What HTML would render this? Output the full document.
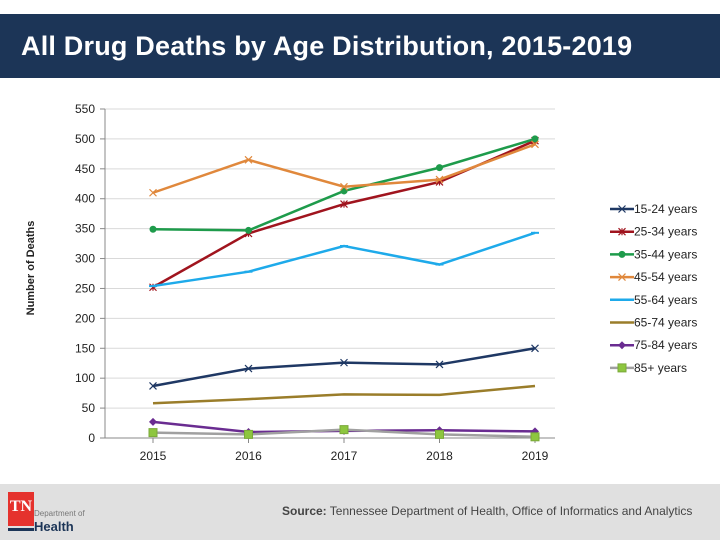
<!DOCTYPE html>
<html><head><meta charset="utf-8"><style>
body{margin:0;width:720px;height:540px;position:relative;background:#fff;font-family:"Liberation Sans",sans-serif;overflow:hidden}
.hdr{position:absolute;left:0;top:14px;width:720px;height:64px;background:#1c3557;color:#fff;font-weight:bold;font-size:27px;line-height:64px;padding-left:21px;box-sizing:border-box;letter-spacing:0.2px}
.ftr{position:absolute;left:0;top:484px;width:720px;height:56px;background:#e0e0e0}
</style></head><body>
<div class="hdr">All Drug Deaths by Age Distribution, 2015-2019</div>
<div class="ftr">
<div style="position:absolute;left:8px;top:8px;width:26px;height:34px;background:#e5322d;color:#fff;font-family:'Liberation Serif',serif;font-weight:bold;font-size:16px;text-align:center;line-height:30px">TN</div>
<div style="position:absolute;left:8px;top:44px;width:26px;height:3px;background:#1c3557"></div>
<div style="position:absolute;left:34px;top:25px;font-size:8px;color:#777">Department of</div>
<div style="position:absolute;left:34px;top:35px;font-size:13px;font-weight:bold;color:#1c3557">Health</div>
<div style="position:absolute;left:282px;top:20px;font-size:12px;color:#444"><b>Source:</b> Tennessee Department of Health, Office of Informatics and Analytics</div>
</div>
<svg id="c" width="720" height="540" style="position:absolute;left:0;top:0" font-family="Liberation Sans, sans-serif"></svg>
<script>
const years=["2015","2016","2017","2018","2019"];
const yTicks=[0,50,100,150,200,250,300,350,400,450,500,550];
const seriesNames=["15-24 years","25-34 years","35-44 years","45-54 years","55-64 years","65-74 years","75-84 years","85+ years"];
const s1524=[87,116,126,123,150];
const s2534=[252,342,391,428,497];
const s3544=[349,347,413,452,500];
const s4554=[410,465,420,432,491];
const s5564=[254,278,321,290,343];
const s6574=[58,65,73,72,87];
const s7584=[27,10,12,13,11];
const s85=[9,6,14,6,2];
const allSeries=[s1524,s2534,s3544,s4554,s5564,s6574,s7584,s85];
const colors=["#1f3864","#a0141e","#1e9b4b","#e0883c","#1eaaea","#9a7d2a","#6a2c91","#a0a0a0"];
const markers=["x","star","circle","x","dash","none","diamond","square"];
const svg=document.getElementById('c');const NS="http://www.w3.org/2000/svg";
function el(t,a,p){const e=document.createElementNS(NS,t);for(const k in a)e.setAttribute(k,a[k]);(p||svg).appendChild(e);return e;}
const x=i=>153+i*95.5;const y=v=>438-v*329/550;
yTicks.forEach(v=>{
 const g=el('line',{x1:105,x2:555,y1:y(v),y2:y(v),stroke:v?'#d9d9d9':'#888','stroke-width':1});
 
 
 el('line',{x1:100,x2:105,y1:y(v),y2:y(v),stroke:'#888'});
 const t=el('text',{x:95,y:y(v)+4,'text-anchor':'end','font-size':12,fill:'#222'});t.textContent=v;
 
 
});
el('line',{x1:105,x2:105,y1:y(550),y2:y(0),stroke:'#888'});
years.forEach((yr,i)=>{
 el('line',{x1:x(i),x2:x(i),y1:438,y2:443,stroke:'#888'});
 const t=el('text',{x:x(i),y:460,'text-anchor':'middle','font-size':12,fill:'#222'});t.textContent=yr;
 
 
});
const yt=el('text',{x:0,y:0,transform:'translate(34,268) rotate(-90)','text-anchor':'middle','font-size':11,'font-weight':'bold',fill:'#222'});yt.textContent="Number of Deaths";


function marker(m,cx,cy,c,g){
 if(m==='x'||m==='star'){el('path',{d:`M${cx-3.5} ${cy-3.5}L${cx+3.5} ${cy+3.5}M${cx-3.5} ${cy+3.5}L${cx+3.5} ${cy-3.5}`+(m==='star'?`M${cx} ${cy-3.5}L${cx} ${cy+3.5}`:''),stroke:c,'stroke-width':1.2},g);}
 else if(m==='circle')el('circle',{cx,cy,r:3.5,fill:c},g);
 else if(m==='dash')el('rect',{x:cx-4,y:cy-1,width:8,height:2,fill:c},g);
 else if(m==='diamond')el('path',{d:`M${cx} ${cy-4}L${cx+4} ${cy}L${cx} ${cy+4}L${cx-4} ${cy}Z`,fill:c},g);
 else if(m==='square')el('rect',{x:cx-4,y:cy-4,width:8,height:8,fill:'#8dc63f',stroke:'#7aa83a'},g);
}
allSeries.forEach((s,k)=>{
 const g=el('g',{});
 
 
 el('polyline',{points:s.map((v,i)=>x(i)+','+y(v)).join(' '),fill:'none',stroke:colors[k],'stroke-width':2.5},g);
 s.forEach((v,i)=>marker(markers[k],x(i),y(v),colors[k],g));
 const ly=209+k*22.7;
 const lg=el('g',{});
 
 
 el('line',{x1:610,x2:634,y1:ly,y2:ly,stroke:colors[k],'stroke-width':2.5},lg);
 marker(markers[k],622,ly,colors[k],lg);
 const t=el('text',{x:634,y:ly+4,'font-size':12,fill:'#222'},lg);t.textContent=seriesNames[k];
});
</script>
</body></html>
